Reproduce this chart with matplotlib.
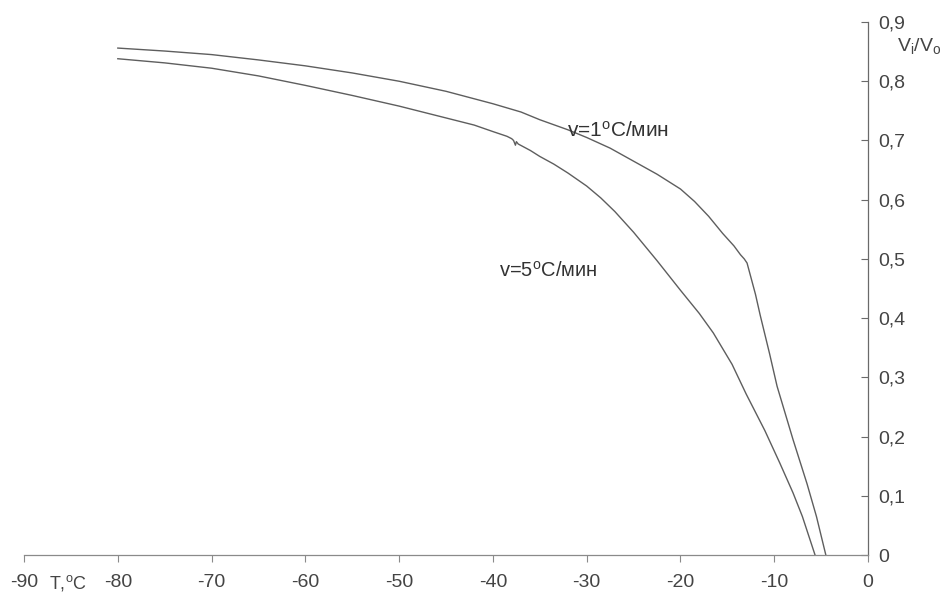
import matplotlib
matplotlib.use('Agg')
import matplotlib.pyplot as plt
import numpy as np

plt.rcParams['font.family'] = ['Liberation Sans', 'DejaVu Sans']
plt.rcParams['mathtext.fontset'] = 'custom'
plt.rcParams['mathtext.rm'] = 'Liberation Sans'
plt.rcParams['mathtext.it'] = 'Liberation Sans'

# v = 1 C/min curve
t1 = [-80, -75, -70, -65, -60, -55, -50, -45, -40, -37, -35, -32, -30, -27.5, -25, -22.5,
      -20, -18.5, -17, -15.5, -14.3, -13.6, -13.2, -12.9, -12, -11.5, -10.5, -9.7, -8, -6.5, -5.5, -4.5]
v1 = [0.856, 0.851, 0.845, 0.836, 0.826, 0.814, 0.800, 0.783, 0.762, 0.748, 0.735, 0.718, 0.705, 0.687, 0.665, 0.643,
      0.618, 0.597, 0.572, 0.543, 0.522, 0.507, 0.500, 0.493, 0.44, 0.405, 0.34, 0.285, 0.195, 0.12, 0.065, 0.0]

# v = 5 C/min curve
t5 = [-80, -75, -70, -65, -60, -55, -50, -45, -42, -40, -38.5, -38, -37.8, -37.6, -37.5, -37.3, -36, -35,
      -33.5, -32, -30, -28.5, -27, -25, -22.5, -20, -18, -16.5, -14.5, -13, -11, -9.4, -8, -7, -5.65]
v5 = [0.838, 0.831, 0.822, 0.809, 0.793, 0.776, 0.758, 0.738, 0.726, 0.715, 0.707, 0.703, 0.700, 0.692, 0.698, 0.694, 0.683, 0.673,
      0.660, 0.645, 0.623, 0.603, 0.580, 0.545, 0.497, 0.447, 0.408, 0.375, 0.322, 0.272, 0.210, 0.155, 0.105, 0.065, 0.0]

xticks = [-90, -80, -70, -60, -50, -40, -30, -20, -10, 0]
yticks = [0, 0.1, 0.2, 0.3, 0.4, 0.5, 0.6, 0.7, 0.8, 0.9]
ylabels = ['0', '0,1', '0,2', '0,3', '0,4', '0,5', '0,6', '0,7', '0,8', '0,9']

fig = plt.figure(figsize=(9.43, 6), dpi=100)
ax = fig.add_axes([0.0255, 0.075, 0.895, 0.8883])

lc = '#5e5e5e'
ax.plot(t1, v1, color=lc, lw=1.0)
ax.plot(t5, v5, color=lc, lw=1.0)

ax.set_xlim(-90, 0)
ax.set_ylim(0, 0.9)

for s in ['top', 'left']:
   ax.spines[s].set_visible(False)
ax.spines['bottom'].set_color('#8a8a8a')
ax.spines['right'].set_color('#6a6a6a')
ax.spines['bottom'].set_linewidth(0.9)
ax.spines['right'].set_linewidth(0.9)

ax.yaxis.tick_right()
ax.set_xticks(xticks)
ax.set_xticklabels([str(x) for x in xticks])
ax.set_yticks(yticks)
ax.set_yticklabels(ylabels)
ax.tick_params(axis='x', direction='out', length=5, width=0.8, color='#8a8a8a',
               pad=9, labelsize=14, labelcolor='#444444')
ax.tick_params(axis='y', direction='in', length=5, width=0.8, color='#6a6a6a',
               pad=7, labelsize=14, labelcolor='#444444')

ax.text(-32.1, 0.716, r'v=1$^{\rm o}$C/мин', fontsize=15, color='#333333',
        va='center', ha='left')
ax.text(-39.4, 0.48, r'v=5$^{\rm o}$C/мин', fontsize=14.5, color='#333333',
        va='center', ha='left')

ax.text(3.1, 0.86, r'V$_{\rm i}$/V$_{\rm o}$', fontsize=14, color='#444444',
        va='center', ha='left', clip_on=False)
ax.text(-87.3, -0.048, r'T,$^{\rm o}$C', fontsize=13, color='#444444',
        va='center', ha='left', clip_on=False)

plt.savefig('out.png', dpi=100)
